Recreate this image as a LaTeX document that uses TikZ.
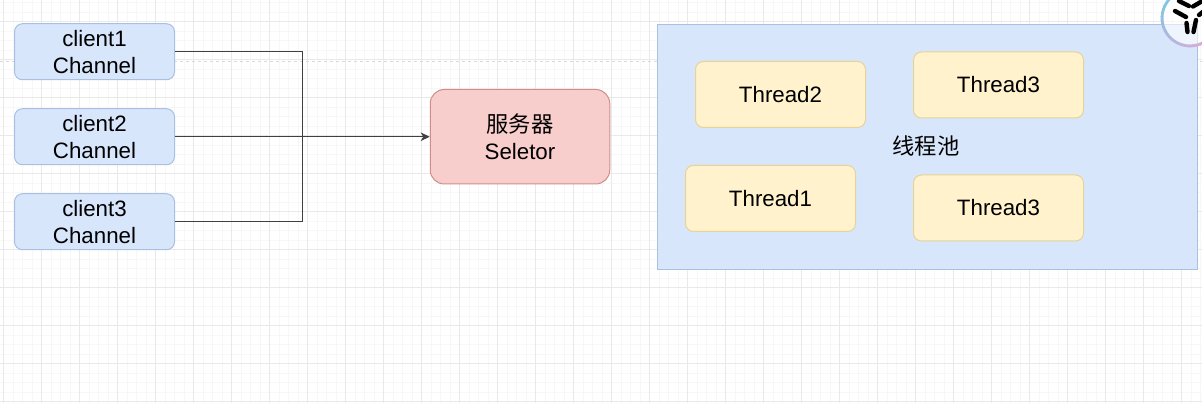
\documentclass[tikz,border=0pt]{standalone}
\usepackage{fontspec}
\setmainfont{Liberation Sans}
\newfontfamily\cjk{Noto Sans CJK SC}
\usetikzlibrary{arrows.meta}
\definecolor{bluefill}{HTML}{D8E6FB}
\definecolor{blueline}{HTML}{A9C0E2}
\definecolor{yellowfill}{HTML}{FFF2CC}
\definecolor{yellowline}{HTML}{E6D496}
\definecolor{redfill}{HTML}{F7CECC}
\definecolor{redline}{HTML}{CF8E8C}
\definecolor{minorgrid}{HTML}{F7F7F7}
\definecolor{majorgrid}{HTML}{E9E9E9}
\definecolor{wire}{HTML}{404040}
\definecolor{ringpink}{HTML}{EBA6D6}
\definecolor{ringblue}{HTML}{7CC8E4}
\tikzset{
  x=1pt,y=-1pt,
  lbl/.style={font=\fontsize{22.3}{27}\selectfont,align=center,text=black,inner sep=0pt},
  box/.style={draw,rounded corners=#1,line width=1pt,inner sep=0pt},
  clientbox/.style={box=8pt,fill=bluefill,draw=blueline,lbl,text width=160pt,minimum height=56pt},
  threadbox/.style={box=8pt,fill=yellowfill,draw=yellowline,lbl,text width=170pt,minimum height=66pt},
  wirestyle/.style={draw=wire,line width=0.9pt},
}
\begin{document}
\begin{tikzpicture}
\useasboundingbox (0,0) rectangle (1202,403);
\begin{scope}
\clip (0,0) rectangle (1202,403);
\fill[white] (0,0) rectangle (1202,403);
% grid
\foreach \i in {0,...,126} {\draw[minorgrid,line width=0.8pt] ({3.5+9.5*\i},0) -- ({3.5+9.5*\i},403);}
\foreach \i in {0,...,42} {\draw[minorgrid,line width=0.8pt] (0,{2.5+9.5*\i}) -- (1202,{2.5+9.5*\i});}
\foreach \i in {0,...,31} {\draw[majorgrid,line width=0.8pt] ({3.5+38*\i},0) -- ({3.5+38*\i},403);}
\foreach \i in {0,...,10} {\draw[majorgrid,line width=0.8pt] (0,{21.5+38*\i}) -- (1202,{21.5+38*\i});}
\draw[black!15,line width=0.7pt,dash pattern=on 3pt off 3pt] (0,61) -- (1202,61);
% pool
\node[draw=blueline,fill=bluefill,line width=1.2pt,minimum width=539.5pt,minimum height=245pt,inner sep=0pt,anchor=north west] (pool) at (657.25,23.75) {};
\node[lbl,font=\fontsize{22.3}{27}\cjk] (poollabel) at (926,145.5) {线程池};
% clients
\node[clientbox] (c1) at (94.5,51.75) {client1\\Channel};
\node[clientbox] (c2) at (94.5,136.75) {client2\\Channel};
\node[clientbox] (c3) at (94.5,221.75) {client3\\Channel};
% server
\node[box=14pt,fill=redfill,draw=redline,lbl,text width=179.5pt,minimum height=94.5pt] (srv) at (520,136.75) {{\cjk 服务器}\\Seletor};
% threads
\node[threadbox] (t2) at (780.5,94.5) {Thread2};
\node[threadbox] (t3a) at (998.5,85) {Thread3};
\node[threadbox] (t1) at (770.5,198.5) {Thread1};
\node[threadbox] (t3b) at (998.5,208) {Thread3};
% connectors
\coordinate (bus) at (302,136.75);
\draw[wirestyle] (c1.east) -| (bus);
\draw[wirestyle] (c3.east) -| (bus);
\draw[wirestyle,-{Stealth[length=9pt,width=8.5pt,inset=2.5pt]}] (c2.east) -- (srv.west);
% logo
\fill[white,opacity=0.6] (1190,18) circle (28);
\foreach \a in {0,4,...,96} {
  \draw[ringblue!\a!ringpink,line width=2.8pt] ({1190+28*cos(30+1.9*\a)},{18+28*sin(30+1.9*\a)}) -- ({1190+28*cos(30+1.9*(\a+5))},{18+28*sin(30+1.9*(\a+5))});
}
\foreach \xa/\ya/\xb/\yb in {1175/11/1186/17, 1179/1/1189/6, 1186.5/23/1187.5/32, 1196/20/1193.5/32, 1193/6.5/1204/0, 1199/15/1204/11}
  {\draw[black,line width=4.4pt,line cap=round] (\xa,\ya) -- (\xb,\yb);}
\end{scope}
\end{tikzpicture}
\end{document}
